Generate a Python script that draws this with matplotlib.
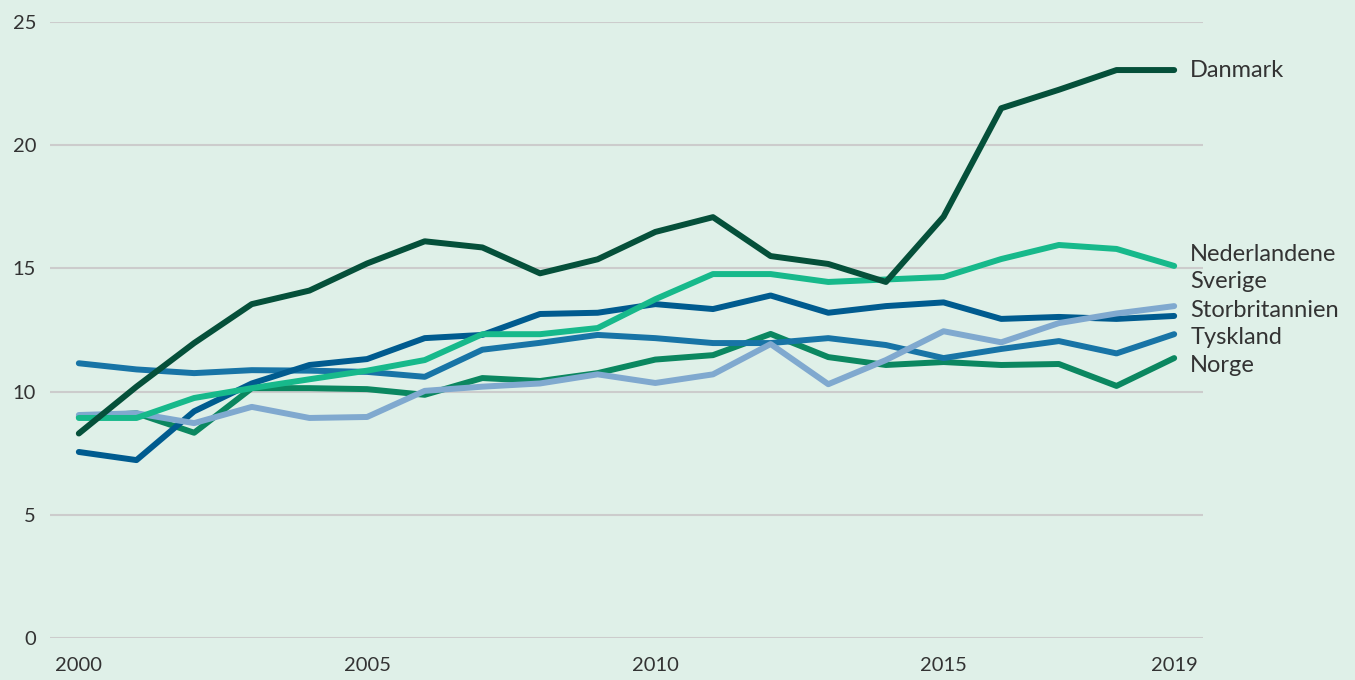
import matplotlib
matplotlib.use('Agg')
import matplotlib.pyplot as plt

# --- Dados ---
years = list(range(2000, 2020))

danmark = [8.3, 10.2, 11.97, 13.55, 14.1, 15.2, 16.1, 15.85, 14.8, 15.37,
           16.48, 17.08, 15.5, 15.18, 14.45, 17.1, 21.5, 22.25, 23.05, 23.05]
nederlandene = [8.93, 8.93, 9.74, 10.14, 10.5, 10.85, 11.28, 12.33, 12.33, 12.58,
                13.75, 14.77, 14.77, 14.45, 14.55, 14.65, 15.38, 15.95, 15.79, 15.1]
sverige = [9.05, 9.12, 8.72, 9.38, 8.93, 8.97, 10.03, 10.2, 10.33, 10.7,
           10.35, 10.7, 11.93, 10.3, 11.28, 12.45, 12.0, 12.78, 13.17, 13.47]
storbritannien = [7.55, 7.22, 9.2, 10.33, 11.08, 11.32, 12.17, 12.3, 13.15, 13.2,
                  13.55, 13.35, 13.9, 13.2, 13.47, 13.62, 12.95, 13.03, 12.95, 13.07]
tyskland = [11.15, 10.9, 10.75, 10.87, 10.85, 10.8, 10.6, 11.7, 11.98, 12.3,
            12.17, 11.97, 11.97, 12.17, 11.89, 11.36, 11.73, 12.05, 11.55, 12.33]
norge = [8.97, 9.12, 8.33, 10.14, 10.14, 10.1, 9.87, 10.55, 10.43, 10.75,
         11.3, 11.48, 12.34, 11.4, 11.08, 11.2, 11.08, 11.12, 10.23, 11.36]

names = ['Danmark', 'Nederlandene', 'Sverige', 'Storbritannien', 'Tyskland', 'Norge']
series = [danmark, nederlandene, sverige, storbritannien, tyskland, norge]
colors = ['#05503a', '#17b98b', '#80a9cf', '#005b8f', '#1874a6', '#0b8760']
# --------------------

# Posições dos rótulos à direita (em unidades do eixo y)
label_y = [23.05, 15.58, 14.45, 13.31, 12.18, 11.04]

BG = '#dff0e8'
TEXT = '#333333'

plt.rcParams['font.family'] = ['Lato', 'DejaVu Sans']

fig = plt.figure(figsize=(13.55, 6.8), dpi=100, facecolor=BG)
ax = fig.add_axes([50 / 1355, 42 / 680, 1153 / 1355, 616 / 680])
ax.set_facecolor(BG)

# linhas de grade
for v in [0, 5, 10, 15, 20, 25]:
    ax.axhline(v, color='#cccccc', lw=1.5, zorder=1)

# uma linha por país (ordem de desenho: Danmark por cima)
for name, vals, col in list(zip(names, series, colors))[::-1]:
    ax.plot(years, vals, color=col, lw=4.3, solid_capstyle='round',
            solid_joinstyle='round', zorder=3, clip_on=False)

for name, ly in zip(names, label_y):
    ax.text(2019.28, ly, name, fontsize=17, color=TEXT, va='center', ha='left')

ax.set_xlim(1999.5, 2019.5)
ax.set_ylim(0, 25)
ax.set_xticks([2000, 2005, 2010, 2015, 2019])
ax.set_yticks([0, 5, 10, 15, 20, 25])
ax.tick_params(axis='both', length=0, labelsize=14.5, colors=TEXT)
ax.tick_params(axis='y', pad=10)
ax.tick_params(axis='x', pad=14)
for s in ax.spines.values():
    s.set_visible(False)

fig.savefig('out.png', dpi=100, facecolor=BG)
